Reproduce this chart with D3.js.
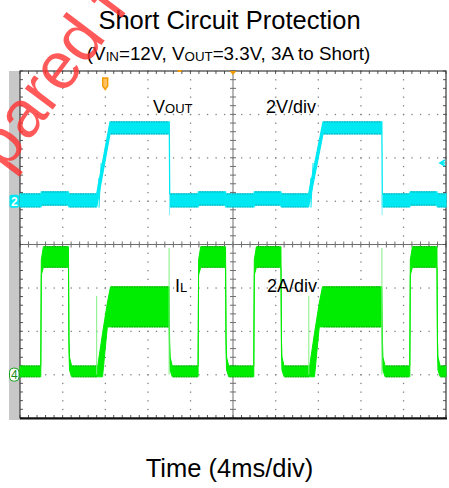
<!DOCTYPE html>
<html lang="en">
<head>
<meta charset="UTF-8">
<title>Short Circuit Protection</title>
<script src="https://d3js.org/d3.v7.min.js"></script>
<style>
  body { margin: 0; background: #fff; }
  text { font-family: Arial, "Liberation Sans", sans-serif; }
</style>
</head>
<body>
<script>
// time in ms, 4 ms/div over 10 div
const timeDomain = [0, 40];

// VOUT envelope (V), 2 V/div
const voutTime = [0, 1.97, 2.0, 4.55, 4.6, 7.2, 8.45, 14.02, 14.06, 16.72, 16.75, 19.3, 19.33,
                  21.97, 22.0, 24.5, 24.53, 27.1, 28.45, 33.98, 34.02, 36.6, 36.63, 39.15, 39.18, 40];
const voutLow  = [-0.27, -0.27, -0.18, -0.18, -0.27, -0.27, 3.1, 3.1, -0.27, -0.27, -0.18, -0.18, -0.27,
                  -0.27, -0.18, -0.18, -0.27, -0.27, 3.1, 3.1, -0.27, -0.27, -0.18, -0.18, -0.27, -0.27];
const voutHigh = [0.33, 0.33, 0.43, 0.43, 0.33, 0.33, 3.65, 3.65, 0.33, 0.33, 0.43, 0.43, 0.33,
                  0.33, 0.43, 0.43, 0.33, 0.33, 3.65, 3.65, 0.33, 0.33, 0.43, 0.43, 0.33, 0.33];
const voutSpikeTime = [14.04, 34.0];
const voutSpikeMin = [-0.64, -0.64];
const voutGlitchT0 = [7.22, 7.42, 27.12, 27.32];
const voutGlitchT1 = [7.42, 7.62, 27.32, 27.52];
const voutGlitchV0 = [0.0, -0.3, 0.0, -0.3];
const voutGlitchV1 = [1.07, 1.76, 1.07, 1.76];

// IL envelope (A), 2 A/div
const ilTime = [0, 1.95, 2.0, 2.2, 4.55, 4.6, 4.65, 4.85, 7.3, 7.75, 8.2, 8.5, 14.0, 14.05, 14.1, 14.3,
                16.72, 16.77, 16.97, 19.3, 19.35, 19.4, 19.6, 21.95, 22.0, 22.2, 24.5, 24.55, 24.6, 24.8,
                27.2, 27.65, 28.1, 28.4, 33.98, 34.03, 34.08, 34.28, 36.6, 36.65, 36.85, 39.15, 39.2,
                39.25, 39.45, 40];
const ilLow  = [-0.1, -0.1, 4.6, 4.95, 4.95, 1.0, 0.2, -0.1, -0.1, -0.1, 2.2, 2.2, 2.2, 1.0, 0.2, -0.1,
                -0.1, 4.6, 4.95, 4.95, 1.0, 0.2, -0.1, -0.1, 4.6, 4.95, 4.95, 1.0, 0.2, -0.1,
                -0.1, -0.1, 2.2, 2.2, 2.2, 1.0, 0.2, -0.1, -0.1, 4.6, 4.95, 4.95, 1.0,
                0.2, -0.1, -0.1];
const ilHigh = [0.4, 0.4, 5.3, 5.9, 5.9, 1.6, 0.8, 0.4, 0.4, 1.9, 3.3, 4.05, 4.05, 1.6, 0.8, 0.4,
                0.4, 5.3, 5.9, 5.9, 1.6, 0.8, 0.4, 0.4, 5.3, 5.9, 5.9, 1.6, 0.8, 0.4,
                0.4, 1.9, 3.3, 4.05, 4.05, 1.6, 0.8, 0.4, 0.4, 5.3, 5.9, 5.9, 1.6,
                0.8, 0.4, 0.4];
const ilSpikeTime = [7.2, 14.0, 27.12, 33.98];
const ilSpikeTop = [3.63, 5.84, 3.63, 5.84];

const W = 449, H = 488;
const plot = { left: 20, right: 446, top: 71, bottom: 418 };

const svg = d3.select("body").append("svg")
    .attr("width", W)
    .attr("height", H);

const x = d3.scaleLinear().domain(timeDomain).range([plot.left, plot.right]);
const div = d3.scaleLinear().domain([-4, 4]).range([plot.bottom, plot.top]);
// ch2 ground one div above centre, ch4 ground three div below
const yV = d3.scaleLinear().domain([-10, 6]).range([plot.bottom, plot.top]);
const yI = d3.scaleLinear().domain([-2, 14]).range([plot.bottom, plot.top]);

// titles
svg.append("text")
    .attr("x", 229.5).attr("y", 29)
    .attr("text-anchor", "middle")
    .attr("font-size", 25.5)
    .text("Short Circuit Protection");

const sub = svg.append("text")
    .attr("x", 228.5).attr("y", 60)
    .attr("text-anchor", "middle")
    .attr("font-size", 18.8);
sub.append("tspan").text("(V");
sub.append("tspan").attr("font-size", 13.3).attr("dy", 1).text("IN");
sub.append("tspan").attr("dy", -1).text("=12V, V");
sub.append("tspan").attr("font-size", 13.3).attr("dy", 1).text("OUT");
sub.append("tspan").attr("dy", -1).text("=3.3V, 3A to Short)");

svg.append("text")
    .attr("x", 229.5).attr("y", 477)
    .attr("text-anchor", "middle")
    .attr("font-size", 25.5)
    .text("Time (4ms/div)");

// grey side strip
svg.append("rect")
    .attr("x", 9).attr("y", plot.top)
    .attr("width", plot.left - 9).attr("height", plot.bottom - plot.top + 2)
    .attr("fill", "#c8c8c8");

// graticule
const g = svg.append("g");
const minorX = d3.range(0, 40.001, 0.8);
const minorY = d3.range(-4, 4.001, 0.2);
const majorX = d3.range(4, 40, 4).filter(d => d !== 20);
const majorY = d3.range(-3, 4, 1).filter(d => d !== 0);

majorY.forEach(r => {
    g.selectAll(null).data(minorX).enter().append("rect")
        .attr("x", d => x(d) - 0.5).attr("y", div(r) - 0.5)
        .attr("width", 1.3).attr("height", 1.3)
        .attr("fill", "#808080");
});
majorX.forEach(c => {
    g.selectAll(null).data(minorY).enter().append("rect")
        .attr("x", x(c) - 0.5).attr("y", d => div(d) - 0.5)
        .attr("width", 1.3).attr("height", 1.3)
        .attr("fill", "#808080");
});

// centre lines with ticks
g.append("line")
    .attr("x1", plot.left).attr("x2", plot.right)
    .attr("y1", div(0)).attr("y2", div(0))
    .attr("stroke", "#6e6e6e").attr("stroke-width", 1);
g.append("line")
    .attr("x1", x(20)).attr("x2", x(20))
    .attr("y1", plot.top).attr("y2", plot.bottom)
    .attr("stroke", "#6e6e6e").attr("stroke-width", 1);
g.selectAll(null).data(minorX).enter().append("line")
    .attr("x1", d => x(d)).attr("x2", d => x(d))
    .attr("y1", div(0) - 3).attr("y2", div(0) + 3)
    .attr("stroke", "#6e6e6e");
g.selectAll(null).data(minorY).enter().append("line")
    .attr("y1", d => div(d)).attr("y2", d => div(d))
    .attr("x1", x(20) - 3).attr("x2", x(20) + 3)
    .attr("stroke", "#6e6e6e");

// border ticks
g.selectAll(null).data(minorX).enter().append("line")
    .attr("x1", d => x(d)).attr("x2", d => x(d))
    .attr("y1", plot.top).attr("y2", plot.top + 3)
    .attr("stroke", "#555");
g.selectAll(null).data(minorX).enter().append("line")
    .attr("x1", d => x(d)).attr("x2", d => x(d))
    .attr("y1", plot.bottom).attr("y2", plot.bottom - 3)
    .attr("stroke", "#555");
g.selectAll(null).data(minorY).enter().append("line")
    .attr("y1", d => div(d)).attr("y2", d => div(d))
    .attr("x1", plot.left).attr("x2", plot.left + 3)
    .attr("stroke", "#555");
g.selectAll(null).data(minorY).enter().append("line")
    .attr("y1", d => div(d)).attr("y2", d => div(d))
    .attr("x1", plot.right).attr("x2", plot.right - 3)
    .attr("stroke", "#555");

// border
g.append("rect")
    .attr("x", plot.left).attr("y", plot.top)
    .attr("width", plot.right - plot.left).attr("height", plot.bottom - plot.top)
    .attr("fill", "none").attr("stroke", "#3a3a3a").attr("stroke-width", 1.2);
g.append("line")
    .attr("x1", plot.left).attr("x2", plot.right + 1)
    .attr("y1", plot.bottom + 0.5).attr("y2", plot.bottom + 0.5)
    .attr("stroke", "#111").attr("stroke-width", 2);

// traces
const cyan = "#00e8f2", green = "#00ec00";

// darker dotted edges on the flat parts of a trace
function plateauEdges(data, yScale, color) {
    const segs = [];
    for (let i = 0; i < data.length - 1; i++) {
        const a = data[i], b = data[i + 1];
        if (a.lo === b.lo && a.hi === b.hi && b.t - a.t > 0.5) {
            segs.push({ t0: a.t, t1: b.t, v: a.hi });
            segs.push({ t0: a.t, t1: b.t, v: a.lo });
        }
    }
    svg.selectAll(null).data(segs).enter().append("line")
        .attr("x1", d => x(d.t0) + 1).attr("x2", d => x(d.t1) - 1)
        .attr("y1", d => yScale(d.v)).attr("y2", d => yScale(d.v))
        .attr("stroke", color).attr("stroke-width", 1.2)
        .attr("stroke-dasharray", "1.5,1").attr("opacity", 0.55);
}

const voutData = voutTime.map((t, i) => ({ t, lo: voutLow[i], hi: voutHigh[i] }));
svg.append("path")
    .datum(voutData)
    .attr("d", d3.area().x(d => x(d.t)).y0(d => yV(d.lo)).y1(d => yV(d.hi)))
    .attr("fill", cyan).attr("stroke", cyan).attr("stroke-width", 1.2);
plateauEdges(voutData, yV, "#0a7f88");
svg.selectAll(null).data(voutSpikeTime).enter().append("line")
    .attr("x1", d => x(d)).attr("x2", d => x(d))
    .attr("y1", yV(0.3)).attr("y2", (d, i) => yV(voutSpikeMin[i]))
    .attr("stroke", "#7ff0f7").attr("stroke-width", 1);
svg.selectAll(null).data(voutGlitchT0).enter().append("line")
    .attr("x1", d => x(d)).attr("x2", (d, i) => x(voutGlitchT1[i]))
    .attr("y1", (d, i) => yV(voutGlitchV0[i])).attr("y2", (d, i) => yV(voutGlitchV1[i]))
    .attr("stroke", cyan).attr("stroke-width", 1);

const ilData = ilTime.map((t, i) => ({ t, lo: ilLow[i], hi: ilHigh[i] }));
svg.append("path")
    .datum(ilData)
    .attr("d", d3.area().x(d => x(d.t)).y0(d => yI(d.lo)).y1(d => yI(d.hi)))
    .attr("fill", green).attr("stroke", green).attr("stroke-width", 1);
plateauEdges(ilData, yI, "#0a7a0a");
svg.selectAll(null).data(ilSpikeTime).enter().append("line")
    .attr("x1", d => x(d)).attr("x2", d => x(d))
    .attr("y1", yI(0)).attr("y2", (d, i) => yI(ilSpikeTop[i]))
    .attr("stroke", "#80f080").attr("stroke-width", 1);

// channel labels
function label(xp, yp, main, subTxt, scale) {
    const t = svg.append("text").attr("x", xp).attr("y", yp).attr("font-size", 18);
    t.append("tspan").text(main);
    if (subTxt) t.append("tspan").attr("font-size", 13).text(subTxt);
    if (scale) svg.append("text").attr("x", scale[0]).attr("y", yp).attr("font-size", 18).text(scale[1]);
}
label(153, 113, "V", "OUT", [266, "2V/div"]);
label(175, 292, "I", "L", [267, "2A/div"]);

// channel ground markers
svg.append("rect")
    .attr("x", 9.5).attr("y", yV(0) - 6.5).attr("width", 9.5).attr("height", 13).attr("rx", 2)
    .attr("fill", cyan);
svg.append("text")
    .attr("x", 14.3).attr("y", yV(0) + 4.5).attr("text-anchor", "middle")
    .attr("font-size", 12).attr("font-weight", "bold").attr("fill", "#fff").text("2");
svg.append("rect")
    .attr("x", 9.5).attr("y", yI(0) - 6.5).attr("width", 9.5).attr("height", 13).attr("rx", 4)
    .attr("fill", "#fff").attr("stroke", "#1aa01a").attr("stroke-width", 1);
svg.append("text")
    .attr("x", 14.3).attr("y", yI(0) + 4.5).attr("text-anchor", "middle")
    .attr("font-size", 12).attr("fill", "#1a8a1a").text("4");

// trigger markers
svg.append("path")
    .attr("d", `M${x(8) - 2.5},78 V86 L${x(8)},89.5 L${x(8) + 2.5},86 V78 Z`)
    .attr("fill", "#ffc060").attr("stroke", "#f59a00").attr("stroke-width", 1.4);
svg.append("path")
    .attr("d", `M${x(20) - 3.5},${plot.top} L${x(20) + 3.5},${plot.top} L${x(20)},${plot.top + 4} Z`)
    .attr("fill", "#f59a00");
svg.append("rect")
    .attr("x", x(14.8)).attr("y", plot.top - 1).attr("width", 4).attr("height", 2)
    .attr("fill", "#f59a00");
svg.append("path")
    .attr("d", `M${plot.right - 1},${div(1.88) - 3} L${plot.right - 6},${div(1.88)} L${plot.right - 1},${div(1.88) + 3} M${plot.right - 6},${div(1.88)} H${plot.right - 1}`)
    .attr("fill", "none").attr("stroke", cyan).attr("stroke-width", 1.6);

// watermark
svg.append("text")
    .attr("transform", "translate(-56,254) rotate(-53)")
    .attr("font-size", 66)
    .attr("fill", "#ff3030")
    .attr("opacity", 0.8)
    .text("Prepared for");
</script>
</body>
</html>
